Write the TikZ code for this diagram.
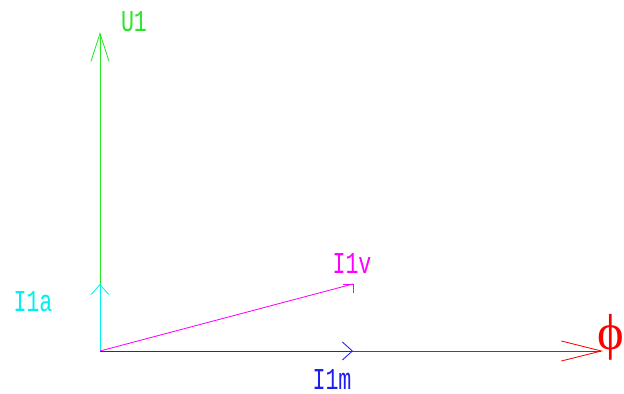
\documentclass[tikz,border=0pt]{standalone}
\usepackage{fontspec}
\newfontfamily\phifont{Liberation Serif}
\newfontfamily\cadfont{Liberation Mono}
\usetikzlibrary{arrows.meta}

\definecolor{vgreen}{RGB}{40,230,40}
\definecolor{vcyan}{RGB}{0,240,240}
\definecolor{vmag}{RGB}{255,0,255}
\definecolor{vblue}{RGB}{30,30,240}
\definecolor{vred}{RGB}{255,0,0}

\newcommand{\cadtext}[1]{\scalebox{1}[1.4]{#1}}

\begin{document}
\begin{tikzpicture}[x=0.025cm,y=0.025cm,
      lbl/.style={font=\cadfont\fontsize{15.4}{18}\selectfont,inner sep=0pt},
      vec/.style={line width=0.6pt},
      bigtip/.style={-{Straight Barb[length=0.7cm,width=0.45cm]}},
      smalltip/.style={-{Straight Barb[length=0.25cm,width=0.45cm]}},
      fluxtip/.style={-{Straight Barb[length=1cm,width=0.5cm]}}]
    \useasboundingbox (0,0) rectangle (624,394);
    % origin and vector tips
    \coordinate (O) at (100,43);
    \coordinate (U1) at (100,362);
    \coordinate (I1a) at (100,110);
    \coordinate (I1v) at (353,110);
    \coordinate (I1m) at (353,43);
    \coordinate (F) at (603,43);
    % flux axis, then magnetising current on top of it
    \draw[vec,vred,fluxtip] (O) -- (F);
    \draw[vec,vblue,smalltip] (O) -- (I1m);
    \draw[vec,vgreen,bigtip] (O) -- (U1);
    \draw[vec,vcyan,smalltip] (O) -- (I1a);
    % no-load current, head drawn by hand
    \draw[vec,vmag] (O) -- (I1v);
    \draw[vec,vmag] (I1v) -- ++(-10,0);
    \draw[vec,vmag] (I1v) -- ++(0,-9);
    % labels
    \node[lbl,text=vgreen] (lU1) at (134,372) {\cadtext{U1}};
    \node[lbl,text=vcyan] (lI1a) at (33,92) {\cadtext{I1a}};
    \node[lbl,text=vmag] (lI1v) at (352,130) {\cadtext{I1v}};
    \node[lbl,text=vblue] (lI1m) at (332,14) {\cadtext{I1m}};
    \node[inner sep=0pt,text=vred,font=\phifont\fontsize{36}{42}\selectfont] (lF) at (611,57) {ϕ};
\end{tikzpicture}
\end{document}
